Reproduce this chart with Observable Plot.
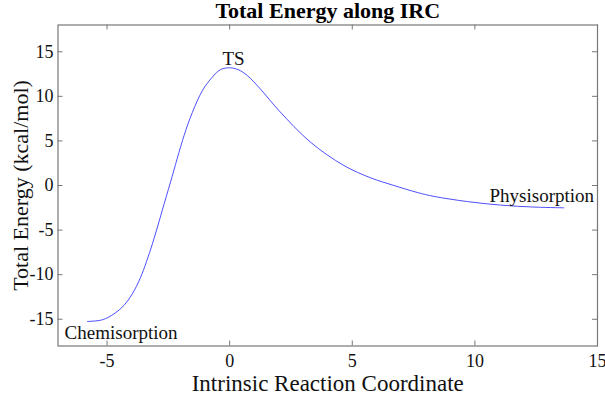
<!DOCTYPE html>
<html><head><meta charset="utf-8">
<script src="https://cdn.jsdelivr.net/npm/d3@7"></script>
<script src="https://cdn.jsdelivr.net/npm/@observablehq/plot@0.6"></script>
<style>body{margin:0;background:#fff}</style>
</head><body><div id="chart"></div>
<script>
const irc = [-5.80, -5.19, -4.72, -4.31, -3.97, -3.63, -3.15, -2.75, -2.41, -1.86, -1.52, -1.11, -0.71, -0.37, 0, 0.34, 0.72, 1.26, 2.01, 3.30, 4.66, 5.75, 6.70, 7.65, 8.33, 9.69, 11.05, 12.41, 13.63];
const energy = [-15.25, -15.06, -14.4, -13.45, -12.15, -10.28, -6.54, -2.8, 0.4, 5.6, 8.2, 10.65, 12.14, 13.0, 13.2, 13.0, 12.33, 10.8, 8.4, 4.85, 2.24, 0.86, 0, -0.78, -1.22, -1.8, -2.2, -2.42, -2.5];
const xTicks = [-5, 0, 5, 10, 15];
const yTicks = [-15, -10, -5, 0, 5, 10, 15];
const noteLabels = ["TS", "Chemisorption", "Physisorption"];
const noteX = [0.16, -6.73, 14.86];
const noteY = [14.2, -16.55, -1.12];
const titleText = "Total Energy along IRC";
const xLabel = "Intrinsic Reaction Coordinate";
const yLabel = "Total Energy (kcal/mol)";

const curve = irc.map((x, i) => ({x, y: energy[i]}));
const note = i => [{x: noteX[i], y: noteY[i], t: noteLabels[i]}];
const font = "Liberation Serif, Times New Roman, serif";
const W = 605, H = 394, ML = 57.5, MR = 8, MT = 24.5, MB = 48.5;
const fw = W - ML - MR, fh = H - MT - MB, tl = 5;
const tickStroke = "#777";

const chart = Plot.plot({
  width: W, height: H,
  marginLeft: ML, marginRight: MR, marginTop: MT, marginBottom: MB,
  style: {fontFamily: font, background: "#fff", color: "#111"},
  x: {domain: [-7, 15], axis: null},
  y: {domain: [-18, 18], axis: null},
  marks: [
    Plot.frame({stroke: tickStroke, strokeWidth: 1.2}),
    Plot.tickX(xTicks, {x: d => d, stroke: tickStroke, insetTop: fh - tl}),
    Plot.tickX(xTicks, {x: d => d, stroke: tickStroke, insetBottom: fh - tl}),
    Plot.tickY(yTicks, {y: d => d, stroke: tickStroke, insetRight: fw - tl}),
    Plot.tickY(yTicks, {y: d => d, stroke: tickStroke, insetLeft: fw - tl}),
    Plot.text(xTicks, {x: d => d, text: d => String(d), frameAnchor: "bottom", lineAnchor: "middle", dy: 15.5,
      fontSize: 18, fontFamily: font, fill: "#111"}),
    Plot.text(yTicks, {y: d => d, text: d => String(d), frameAnchor: "left", textAnchor: "end", lineAnchor: "middle", dx: -4.5,
      fontSize: 18, fontFamily: font, fill: "#111"}),
    Plot.text([xLabel], {frameAnchor: "bottom", lineAnchor: "middle", dy: 37.5, fontSize: 23, fontFamily: font, fill: "#111", text: d => d}),
    Plot.text([yLabel], {frameAnchor: "left", textAnchor: "middle", lineAnchor: "middle", dx: -37.5, rotate: -90,
      fontSize: 22, fontFamily: font, fill: "#111", text: d => d}),
    Plot.text([titleText], {frameAnchor: "top", lineAnchor: "middle", dy: -14, fontSize: 22, fontWeight: "bold",
      fontFamily: font, fill: "#000", text: d => d}),
    Plot.line(curve, {x: "x", y: "y", stroke: "#3b3bff", strokeWidth: 0.9, curve: "catmull-rom"}),
    Plot.text(note(0), {x: "x", y: "y", text: "t", fontSize: 19, fontFamily: font, fill: "#111"}),
    Plot.text(note(1), {x: "x", y: "y", text: "t", fontSize: 19, fontFamily: font, fill: "#111", textAnchor: "start"}),
    Plot.text(note(2), {x: "x", y: "y", text: "t", fontSize: 19, fontFamily: font, fill: "#111", textAnchor: "end"})
  ]
});
document.getElementById("chart").appendChild(chart);
</script>
</body></html>
